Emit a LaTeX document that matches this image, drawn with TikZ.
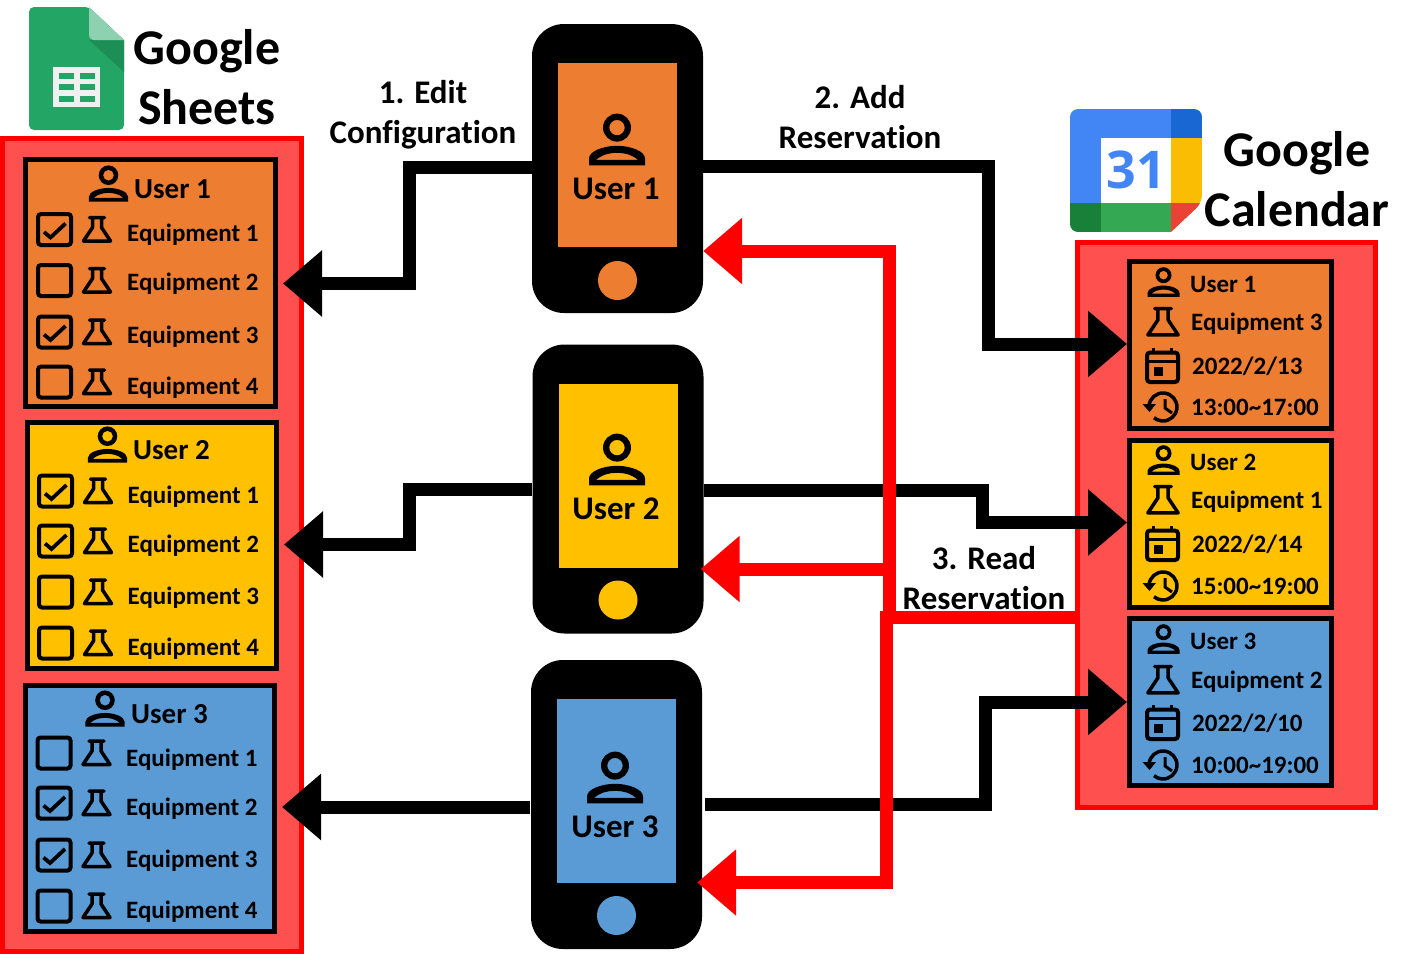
\documentclass[tikz,border=0pt]{standalone}
\usepackage{fontspec}
\setmainfont[Ligatures=CommonOff]{Carlito}
\newfontfamily\logofont{Open Sans}
\usetikzlibrary{arrows.meta}
\definecolor{panelred}{HTML}{FF5050}
\definecolor{userone}{HTML}{ED7D31}
\definecolor{usertwo}{HTML}{FFC000}
\definecolor{userthree}{HTML}{5B9BD5}
\definecolor{sheetgreen}{HTML}{23A566}
\definecolor{sheetdark}{HTML}{1E8E57}
\definecolor{sheetfold}{HTML}{8ED1B1}
\definecolor{sheetcell}{HTML}{F0F0F0}
\definecolor{calblue}{HTML}{4285F4}
\definecolor{caldeep}{HTML}{1967D2}
\definecolor{calyellow}{HTML}{FBBC04}
\definecolor{calgreen}{HTML}{34A853}
\definecolor{calforest}{HTML}{188038}
\definecolor{calred}{HTML}{EA4335}
\tikzstyle{panel} = [rectangle, draw=red, fill=panelred, line width=5pt, inner sep=0pt]
\tikzstyle{sheetcard} = [rectangle, draw=black, line width=5pt, minimum width=249pt, minimum height=246pt, inner sep=0pt]
\tikzstyle{calcard} = [rectangle, draw=black, line width=5pt, minimum width=202pt, minimum height=167pt, inner sep=0pt]
\tikzstyle{phone} = [rectangle, rounded corners=32pt, fill=black, minimum width=171pt, minimum height=289pt, inner sep=0pt]
\tikzstyle{screen} = [rectangle, minimum width=119pt, minimum height=184pt, inner sep=0pt]
\tikzstyle{homekey} = [circle, minimum size=39pt, inner sep=0pt]
\tikzstyle{title} = [align=center, inner sep=0pt, font=\bf\fontsize{50}{60}\selectfont]
\tikzstyle{step label} = [align=center, inner sep=0pt, font=\bf\fontsize{33}{40}\selectfont]
\tikzstyle{phone label} = [inner sep=0pt, font=\bf\fontsize{33}{36}\selectfont]
\tikzstyle{head label} = [anchor=west, inner sep=0pt, text height=19pt, text depth=0pt, font=\bf\fontsize{29}{32}\selectfont]
\tikzstyle{row label} = [anchor=west, inner sep=0pt, text height=16pt, text depth=0pt, font=\bf\fontsize{25}{28}\selectfont]
\tikzstyle{blackarrow} = [line width=13pt, -{Triangle[length=39pt,width=64pt]}]
\tikzstyle{redarrow} = [draw=red, line width=13pt, -{Triangle[length=39pt,width=64pt]}]
\tikzset{
  person/.pic={
    \fill [even odd rule] (0,-11) circle (10) (0,-11) circle (5.5);
    \fill [even odd rule] (-20,16) -- (-20,11) .. controls (-20,6) and (-10,2) .. (0,2) .. controls (10,2) and (20,6) .. (20,11) -- (20,16) -- cycle
      (-15,12) .. controls (-10,8) and (-5,7) .. (0,7) .. controls (5,7) and (10,8) .. (15,12) -- cycle;
  },
  flask/.pic={
    \draw [line join=round, line cap=round] (-7.5,-12) -- (7.5,-12) (-4.5,-12) -- (-4.5,-2) -- (-13.5,11.5) -- (13.5,11.5) -- (4.5,-2) -- (4.5,-12);
  },
  tickbox/.pic={
    \draw [line width=4pt, rounded corners=3pt] (-16.5,-15.5) rectangle (16.5,15.5);
  },
  tickmark/.pic={
    \draw [line width=3.8pt] (-10.5,2.5) -- (-4,8) -- (11,-6);
  },
  calday/.pic={
    \draw [line width=4pt, rounded corners=3pt] (-15.5,-13.5) rectangle (15.5,16);
    \draw [line width=3pt] (-15.5,-5) -- (15.5,-5) (-9,-18) -- (-9,-12) (9,-18) -- (9,-12);
    \fill (-9,1) rectangle (0,10);
  },
  clockback/.pic={
    \draw [line width=3.5pt] (-14,-1) arc [start angle=184, end angle=490, radius=14];
    \draw [line width=3pt] (2,-8) -- (2,1) -- (9,6);
    \fill (-20.5,-3) -- (-7,-3) -- (-13.5,5) -- cycle;
  }
}
\begin{document}
\begin{tikzpicture}[x=1pt, y=-1pt]
\useasboundingbox (0,0) rectangle (1420,962);

% storage panels
\node (panelL) [panel, minimum width=299pt, minimum height=813pt] at (152,545) {};
\node (panelR) [panel, minimum width=298pt, minimum height=565pt] at (1226.5,525) {};

% sheet cards
\node (sheet1) [sheetcard, fill=userone, minimum width=250pt, minimum height=247pt] at (150.5,283) {};
\node (sheet2) [sheetcard, fill=usertwo, below of=sheet1, node distance=262pt, xshift=1.5pt] {};
\node (sheet3) [sheetcard, fill=userthree, below of=sheet2, node distance=263pt, xshift=-2pt] {};

\foreach \i/\px/\py/\tx/\ty in {1/108.5/186/134/189, 2/107.5/447/133/450, 3/105/711/131/714} {
  \pic [scale=0.98] at (\px,\py) {person};
  \node (sheethead\i) [head label] at (\tx,\ty) {User \i};
}
\foreach \i/\by/\ty/\tick in {1/229.5/233/1, 2/280.5/282/0, 3/332/335/1, 4/382/386/0} {
  \pic at (54.5,\by) {tickbox};
  \ifnum\tick=1 \pic at (54.5,\by) {tickmark}; \fi
  \pic [line width=3.5pt] at (97,\by) {flask};
  \node (sheetrowA\i) [row label] at (127,\ty) {Equipment \i};
}
\foreach \i/\by/\ty/\tick in {1/491/495/1, 2/541/544/1, 3/592/596/0, 4/643/647/0} {
  \pic at (55.5,\by) {tickbox};
  \ifnum\tick=1 \pic at (55.5,\by) {tickmark}; \fi
  \pic [line width=3.5pt] at (98,\by) {flask};
  \node (sheetrowB\i) [row label] at (127.5,\ty) {Equipment \i};
}
\foreach \i/\by/\ty/\tick in {1/753/758/0, 2/803/807/1, 3/855/859/1, 4/906/910/0} {
  \pic at (54,\by) {tickbox};
  \ifnum\tick=1 \pic at (54,\by) {tickmark}; \fi
  \pic [line width=3.5pt] at (96.5,\by) {flask};
  \node (sheetrowC\i) [row label] at (126,\ty) {Equipment \i};
}

% calendar cards
\node (cal1) [calcard, fill=userone] at (1230.5,345) {};
\node (cal2) [calcard, fill=usertwo, below of=cal1, node distance=178.5pt] {};
\node (cal3) [calcard, fill=userthree, below of=cal2, node distance=178.5pt] {};

\foreach \i/\eq/\day/\hrs/\ya/\yb/\yc/\yd in {1/Equipment 3/{2022/2/13}/{13:00\textasciitilde17:00}/284/322/366/407, 2/Equipment 1/{2022/2/14}/{15:00\textasciitilde19:00}/462/500/544/586, 3/Equipment 2/{2022/2/10}/{10:00\textasciitilde19:00}/641/680/723/765} {
  \pic [scale=0.8] at (1163.5,\ya) {person};
  \pic [scale=1.12, line width=3.5pt] at (1163,\yb) {flask};
  \pic at (1162.5,\yc) {calday};
  \pic at (1163,\yd) {clockback};
  \node (caluser\i) [row label] at (1190,\ya) {User \i};
  \node (calequip\i) [row label] at (1191,\yb) {\eq};
  \node (calday\i) [row label] at (1192,\yc) {\day};
  \node (caltime\i) [row label] at (1191,\yd) {\hrs};
}

% phones
\node (phone1) [phone] at (617.5,168.5) {};
\node (phone2) [phone, below of=phone1, node distance=320.5pt, xshift=0.5pt] {};
\node (phone3) [phone, below of=phone2, node distance=315.5pt, xshift=-1.5pt] {};
\node (screen1) [screen, fill=userone, below of=phone1, node distance=-13.5pt] {};
\node (screen2) [screen, fill=usertwo, below of=phone2, node distance=-13.5pt] {};
\node (screen3) [screen, fill=userthree, below of=phone3, node distance=-13.5pt] {};
\node (key1) [homekey, fill=userone, below of=phone1, node distance=112pt] {};
\node (key2) [homekey, fill=usertwo, below of=phone2, node distance=111pt] {};
\node (key3) [homekey, fill=userthree, below of=phone3, node distance=111pt] {};
\pic [scale=1.4] at (617,143) {person};
\pic [scale=1.4] at (617,463) {person};
\pic [scale=1.4] at (615,781) {person};
\node (phonetext1) [phone label] at (616,189) {User 1};
\node (phonetext2) [phone label] at (616,509) {User 2};
\node (phonetext3) [phone label] at (615,827) {User 3};

% logo of the sheet
\fill [sheetgreen, rounded corners=5pt] (29,130) -- (29,7) -- (89,7) [sharp corners] -- (124,40) [rounded corners=5pt] -- (124,130) -- cycle;
\fill [sheetdark] (89,40) -- (124,40) -- (124,72) -- cycle;
\fill [sheetfold] (89,7) -- (124,40) -- (95,40) .. controls (91,40) and (89,38) .. (89,34) -- cycle;
\fill [sheetcell] (53,67) rectangle (100,107);
\foreach \cx in {59,80} \foreach \cy in {73,84,96}
  \fill [sheetgreen] (\cx,\cy) rectangle (\cx+15,\cy+6);

% logo of the calendar
\begin{scope}
\clip [rounded corners=8pt] (1070,109) -- (1202,109) -- (1202,203) [sharp corners] -- (1171,232) [rounded corners=8pt] -- (1070,232) -- cycle;
\fill [calblue] (1070,109) rectangle (1171,203);
\fill [caldeep] (1171,109) rectangle (1202,138);
\fill [calyellow] (1171,138) rectangle (1202,203);
\fill [calgreen] (1101,203) rectangle (1171,232);
\fill [calforest] (1070,203) rectangle (1101,232);
\fill [calred] (1171,203) -- (1202,203) -- (1171,232) -- cycle;
\fill [white] (1101,138) rectangle (1171,203);
\end{scope}
\node (calnumber) [inner sep=0pt, text=calblue, font=\logofont\bfseries\fontsize{52}{60}\selectfont] at (1136,170) {31};

% titles and step labels
\node (sheetstitle) [title] at (207,77) {Google\\Sheets};
\node (caltitle) [title] at (1297,179.5) {Google\\Calendar};
\node (editlabel) [step label] at (423,115) {1. Edit\\Configuration};
\node (addlabel) [step label] at (860,117) {2. Add\\Reservation};
\node (readlabel) [step label] at (984,578) {3. Read\\Reservation};

% edit arrows
\draw [blackarrow, shorten >=5pt] (phone1.west |- 0,167.5) -| (409,283.5) -- (sheet1.east |- 0,283.5);
\draw [blackarrow, shorten >=5pt] (phone2.west |- 0,489.5) -| (409,544.5) -- (sheet2.east |- 0,544.5);
\draw [blackarrow, shorten >=5pt] (530,807) -- (sheet3.east |- 0,807);

% add arrows
\draw [blackarrow] (phone1.east |- 0,166) -| (988,344) -- (cal1.west |- 0,344);
\draw [blackarrow] (phone2.east |- 0,490) -| (982,522.5) -- (cal2.west |- 0,522.5);
\draw [blackarrow] (705,804) -| (985,702) -- (cal3.west |- 0,702);

% read arrows
\coordinate (busjoin) at (889.5,617.5);
\draw [redarrow, shorten >=-5pt] (panelR.west |- 0,617.5) -| (886.5,882.5) -- (phone3.east |- 0,882.5);
\draw [redarrow] (busjoin) |- (phone1.east |- 0,251);
\draw [redarrow, shorten >=-3pt] (889.5,569) -- (phone2.east |- 0,569);
\end{tikzpicture}
\end{document}
